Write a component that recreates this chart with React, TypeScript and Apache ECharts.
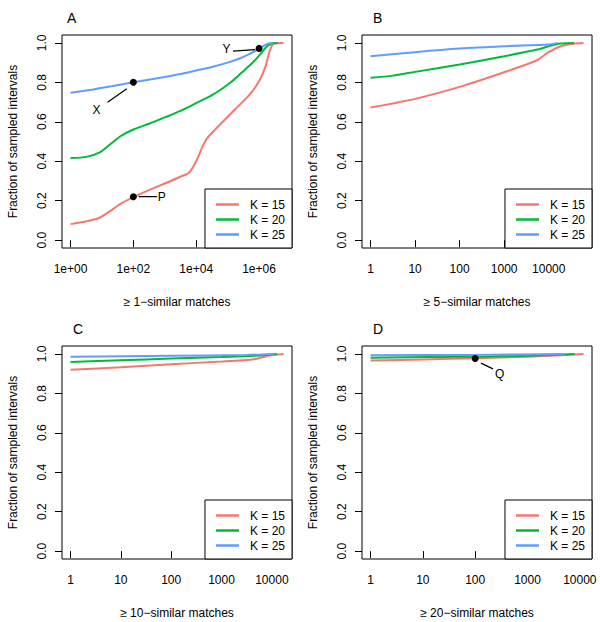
import React, { useEffect, useRef } from "react";
import * as echarts from "echarts";

const NAMES = ["K = 15", "K = 20", "K = 25"];
const COLORS = ["#F8766D", "#00BA38", "#619CFF"];
const PANEL_LETTERS = ["A", "B", "C", "D"];
const X_TITLES = [
  "≥ 1−similar matches",
  "≥ 5−similar matches",
  "≥ 10−similar matches",
  "≥ 20−similar matches",
];
const Y_TITLE = "Fraction of sampled intervals";
const Y_TICKS = [0, 0.2, 0.4, 0.6, 0.8, 1.0];
const X_TICKS_A = [1, 100, 10000, 1000000];
const X_TICKS_BCD = [1, 10, 100, 1000, 10000];

// Panel A (>= 1-similar matches)
const A_X_15 = [1, 3, 8, 18, 40, 100, 300, 1000, 3000, 6000, 10000, 16000, 22000, 40000, 170000, 500000, 1000000, 1600000, 2200000, 2900000, 6000000];
const A_Y_15 = [0.081, 0.094, 0.112, 0.147, 0.185, 0.218, 0.252, 0.287, 0.32, 0.343, 0.4, 0.475, 0.515, 0.56, 0.662, 0.738, 0.805, 0.88, 0.96, 0.997, 1.0];
const A_X_20 = [1, 3.2, 8.5, 18, 40, 100, 316, 1000, 3160, 10000, 31600, 63000, 126000, 275000, 500000, 741000, 1200000, 1740000, 2510000, 3980000];
const A_Y_20 = [0.416, 0.422, 0.445, 0.485, 0.528, 0.561, 0.59, 0.622, 0.655, 0.695, 0.735, 0.765, 0.8, 0.848, 0.885, 0.912, 0.95, 0.98, 0.997, 1.0];
const A_X_25 = [1, 5.25, 20, 100, 724, 3160, 10000, 31600, 100000, 251000, 447000, 1000000, 1410000, 2000000, 2820000];
const A_Y_25 = [0.747, 0.764, 0.78, 0.8, 0.823, 0.842, 0.86, 0.878, 0.9, 0.922, 0.94, 0.97, 0.985, 0.997, 1.0];

// Panel B (>= 5-similar matches)
const B_X_15 = [1, 3.16, 10, 100, 1000, 5500, 9330, 18600, 37150, 60260];
const B_Y_15 = [0.672, 0.693, 0.716, 0.777, 0.851, 0.912, 0.949, 0.983, 0.997, 1.0];
const B_X_20 = [1, 3.16, 10, 100, 1000, 5500, 10000, 18600, 37150];
const B_Y_20 = [0.823, 0.834, 0.853, 0.89, 0.932, 0.966, 0.983, 0.997, 1.0];
const B_X_25 = [1, 10, 100, 1000, 10000, 15850];
const B_Y_25 = [0.932, 0.953, 0.971, 0.983, 0.992, 1.0];

// Panel C (>= 10-similar matches)
const C_X_15 = [1, 10, 100, 1000, 4470, 9550, 17000];
const C_Y_15 = [0.919, 0.932, 0.948, 0.961, 0.973, 0.993, 1.0];
const C_X_20 = [1, 10, 100, 1000, 4470, 12590];
const C_Y_20 = [0.959, 0.968, 0.976, 0.984, 0.99, 1.0];
const C_X_25 = [1, 100, 3160, 11220];
const C_Y_25 = [0.985, 0.99, 0.995, 1.0];

// Panel D (>= 20-similar matches)
const D_X_15 = [1, 10, 100, 1000, 4270, 11750];
const D_Y_15 = [0.966, 0.972, 0.978, 0.986, 0.993, 1.0];
const D_X_20 = [1, 100, 1000, 3160, 7940];
const D_Y_20 = [0.981, 0.986, 0.99, 0.995, 1.0];
const D_X_25 = [1, 100, 5010];
const D_Y_25 = [0.993, 0.995, 1.0];

const PANEL_X = [
  [A_X_15, A_X_20, A_X_25],
  [B_X_15, B_X_20, B_X_25],
  [C_X_15, C_X_20, C_X_25],
  [D_X_15, D_X_20, D_X_25],
];
const PANEL_Y = [
  [A_Y_15, A_Y_20, A_Y_25],
  [B_Y_15, B_Y_20, B_Y_25],
  [C_Y_15, C_Y_20, C_Y_25],
  [D_Y_15, D_Y_20, D_Y_25],
];

// Annotations (data coordinates)
const ANN_LABELS = ["P", "X", "Y", "Q"];
const ANN_PANEL = [0, 0, 0, 3];
const ANN_DOT_X = [100, 100, 1000000, 100];
const ANN_DOT_Y = [0.22, 0.8, 0.972, 0.977];
const ANN_LINE_X0 = [147, 62, 740000, 129];
const ANN_LINE_Y0 = [0.22, 0.767, 0.966, 0.953];
const ANN_LINE_X1 = [570, 15.1, 148000, 219];
const ANN_LINE_Y1 = [0.22, 0.699, 0.958, 0.924];
const ANN_TEXT_X = [830, 7.0, 95000, 302];
const ANN_TEXT_Y = [0.216, 0.659, 0.966, 0.898];

const FONT = "'Liberation Sans', Arial, Helvetica, sans-serif";
const GRID_POS = [
  { left: 62, top: 35 },
  { left: 362, top: 35 },
  { left: 62, top: 346 },
  { left: 362, top: 346 },
];
const GRID_W = 230;
const GRID_H = 213;

function buildOption() {
  const grid = GRID_POS.map((p) => ({
    left: p.left,
    top: p.top,
    width: GRID_W,
    height: GRID_H,
    show: true,
    borderColor: "#000",
    borderWidth: 1,
    backgroundColor: "transparent",
    containLabel: false,
    outerBoundsMode: "none",
  }));

  const xAxis = PANEL_X.map((seriesXs, i) => {
    let mx = 1;
    seriesXs.forEach((arr) => arr.forEach((v) => (mx = Math.max(mx, v))));
    const dmax = Math.log10(mx);
    const ticks = i === 0 ? X_TICKS_A : X_TICKS_BCD;
    return {
      type: "log",
      logBase: 10,
      gridIndex: i,
      min: Math.pow(10, -0.04 * dmax),
      max: Math.pow(10, 1.04 * dmax),
      axisLine: { show: false },
      axisTick: {
        show: true,
        length: 7,
        inside: false,
        customValues: ticks,
        lineStyle: { color: "#000", width: 1 },
      },
      minorTick: { show: false },
      splitLine: { show: false },
      axisLabel: {
        show: true,
        customValues: ticks,
        margin: 15,
        fontSize: 12,
        color: "#000",
        fontFamily: FONT,
        formatter: (v: number) => {
          if (i === 0) {
            const e = Math.round(Math.log10(v));
            return "1e+" + String(e).padStart(2, "0");
          }
          return String(Math.round(v));
        },
      },
      name: X_TITLES[i],
      nameLocation: "middle",
      nameGap: 48,
      nameTextStyle: { fontSize: 12, color: "#000", fontFamily: FONT },
    };
  });

  const yAxis = GRID_POS.map((_, i) => ({
    type: "value",
    gridIndex: i,
    min: -0.04,
    max: 1.04,
    axisLine: { show: false },
    axisTick: {
      show: true,
      length: 7,
      inside: false,
      customValues: Y_TICKS,
      lineStyle: { color: "#000", width: 1 },
    },
    splitLine: { show: false },
    axisLabel: {
      show: true,
      customValues: Y_TICKS,
      rotate: 90,
      margin: 14,
      fontSize: 12,
      color: "#000",
      fontFamily: FONT,
      formatter: (v: number) => v.toFixed(1),
    },
    name: Y_TITLE,
    nameLocation: "middle",
    nameGap: 43,
    nameRotate: 90,
    nameTextStyle: { fontSize: 12, color: "#000", fontFamily: FONT },
  }));

  const series: any[] = [];
  PANEL_X.forEach((seriesXs, i) => {
    seriesXs.forEach((xs, k) => {
      const ys = PANEL_Y[i][k];
      series.push({
        type: "line",
        name: NAMES[k],
        xAxisIndex: i,
        yAxisIndex: i,
        data: xs.map((x, j) => [x, ys[j]]),
        color: COLORS[k],
        lineStyle: { color: COLORS[k], width: 2 },
        itemStyle: { color: COLORS[k] },
        showSymbol: false,
        symbol: "none",
        smooth: 0.25,
        silent: true,
        z: 2,
      });
    });
  });

  ANN_LABELS.forEach((lab, a) => {
    const p = ANN_PANEL[a];
    series.push({
      type: "line",
      xAxisIndex: p,
      yAxisIndex: p,
      data: [
        [ANN_LINE_X0[a], ANN_LINE_Y0[a]],
        [ANN_LINE_X1[a], ANN_LINE_Y1[a]],
      ],
      lineStyle: { color: "#000", width: 1.2 },
      itemStyle: { color: "#000" },
      symbol: "none",
      showSymbol: false,
      silent: true,
      z: 5,
    });
    series.push({
      type: "scatter",
      xAxisIndex: p,
      yAxisIndex: p,
      data: [[ANN_DOT_X[a], ANN_DOT_Y[a]]],
      symbol: "circle",
      symbolSize: 7,
      itemStyle: { color: "#000", opacity: 1 },
      silent: true,
      z: 6,
    });
    series.push({
      type: "scatter",
      xAxisIndex: p,
      yAxisIndex: p,
      data: [[ANN_TEXT_X[a], ANN_TEXT_Y[a]]],
      symbolSize: 1,
      itemStyle: { color: "#fff", opacity: 0 },
      label: {
        show: true,
        position: [0, 0],
        align: "center",
        verticalAlign: "middle",
        formatter: lab,
        fontSize: 12,
        color: "#000",
        opacity: 1,
        textBorderWidth: 0,
        fontFamily: FONT,
      },
      silent: true,
      z: 6,
    });
  });

  const legend = GRID_POS.map((p) => ({
    data: NAMES,
    orient: "vertical",
    right: 600 - (p.left + GRID_W),
    bottom: 622 - (p.top + GRID_H),
    padding: [8, 7, 6, 11],
    itemGap: 0,
    itemWidth: 23,
    itemHeight: 2.5,
    icon: "rect",
    borderColor: "#000",
    borderWidth: 1,
    borderRadius: 0,
    backgroundColor: "#fff",
    selectedMode: false,
    textStyle: {
      fontSize: 12,
      color: "#000",
      fontFamily: FONT,
      lineHeight: 15,
      padding: [0, 0, 0, 6],
    },
  }));

  const title = PANEL_LETTERS.map((t, i) => ({
    text: t,
    left: GRID_POS[i].left + (i === 0 ? 5 : 11),
    top: GRID_POS[i].top - 24,
    padding: 0,
    textStyle: { fontSize: 14, fontWeight: "normal", color: "#000", fontFamily: FONT },
  }));

  return {
    animation: false,
    backgroundColor: "#fff",
    title,
    legend,
    grid,
    xAxis,
    yAxis,
    series,
  };
}

export default function App() {
  const ref = useRef<HTMLDivElement>(null);
  useEffect(() => {
    if (!ref.current) return;
    const chart = echarts.init(ref.current, null, { renderer: "svg" });
    chart.setOption(buildOption() as any);
    return () => chart.dispose();
  }, []);
  return (
    <div
      ref={ref}
      style={{ position: "absolute", left: 0, top: 0, width: 600, height: 622, background: "#fff" }}
    />
  );
}
